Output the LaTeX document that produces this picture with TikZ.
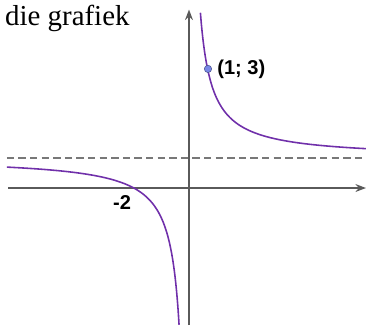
\documentclass[tikz,border=0pt]{standalone}
\usepackage{fontspec}
\setmainfont{Liberation Serif}
\newfontfamily\labelfont{Liberation Sans}
\usetikzlibrary{arrows.meta}
\definecolor{asgrys}{RGB}{90,90,90}
\definecolor{strepies}{RGB}{120,120,120}
\definecolor{grafpers}{RGB}{112,48,170}
\definecolor{puntblou}{RGB}{120,135,230}
\tikzset{
  as/.style={draw=asgrys, line width=1.6pt},
  asimptoot/.style={draw=strepies, line width=1.1pt, dash pattern=on 7pt off 4pt},
  graf/.style={draw=grafpers, line width=1.5pt, smooth, samples=200},
  etiket/.style={font=\labelfont\bfseries\fontsize{19}{21}\selectfont, inner sep=0pt}
}
\begin{document}
\begin{tikzpicture}[>={Stealth[length=10pt,width=7.5pt]}, line join=round]
				\useasboundingbox (-6.3,-4.567) rectangle (5.9,6.267);
				% 1. Assestelsel
				\coordinate (O) at (0,0);
				\coordinate (xl) at (-6.03,0);
				\coordinate (xr) at (5.9,0);
				\coordinate (yb) at (0,-4.567);
				\coordinate (yt) at (0,5.95);
				\draw[as, ->] (xl) -- (xr);
				\draw[as, ->] (yb) -- (yt);
				
				% 2. Horisontale asimptoot y = 1 (stippellyn)
				\coordinate (al) at (-6.07,1);
				\coordinate (ar) at (5.9,1);
				\draw[asimptoot] (al) -- (ar);
				
				% 3. Die twee takke van die hiperbool
				\draw[graf, domain=-6.07:-0.33] plot (\x, {1 + 1.84/\x});
				\draw[graf, domain=0.38:5.9] plot (\x, {1 + 1.84/\x});
				
				% 4. Punt en byskrifte
				\node[circle, fill=puntblou, draw=puntblou!60!black, line width=0.5pt,
				      minimum size=7pt, inner sep=0pt] (P) at (0.633,3.97) {};
				\node[etiket, anchor=west] (Plbl) at ([xshift=5pt]P.east) {(1; 3)};
				\node[etiket] (m2) at (-2.23,-0.47) {-2};
				\node[anchor=base west, inner sep=0pt, font=\fontsize{27.4}{30}\selectfont]
				      (titel) at (-6.133,5.433) {die grafiek};
				
			\end{tikzpicture}
\end{document}
